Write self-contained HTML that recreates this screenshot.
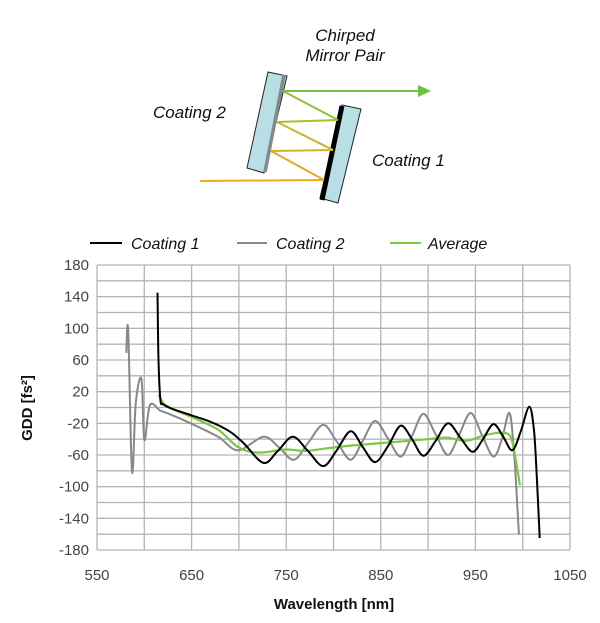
<!DOCTYPE html>
<html><head><meta charset="utf-8"><style>
html,body{margin:0;padding:0;background:#fff;}
svg{display:block;font-family:"Liberation Sans",sans-serif;}
</style></head><body>
<svg id="chart" width="600" height="623" viewBox="0 0 600 623">
<g>
  <text x="345" y="41" font-size="17" font-style="italic" text-anchor="middle" fill="#111">Chirped</text>
  <text x="345" y="61" font-size="17" font-style="italic" text-anchor="middle" fill="#111">Mirror Pair</text>
  <text x="153" y="118" font-size="17" font-style="italic" fill="#111">Coating 2</text>
  <text x="372" y="166" font-size="17" font-style="italic" fill="#111">Coating 1</text>
  <polygon points="268,72 287,76 264,173 247,168" fill="#b9dfe6" stroke="#222" stroke-width="1"/>
  <line x1="284" y1="75" x2="265" y2="172" stroke="#888" stroke-width="3.5"/>
  <polygon points="342,105 361,109 338,203 320,198" fill="#b9dfe6" stroke="#222" stroke-width="1"/>
  <line x1="342" y1="106" x2="322" y2="200" stroke="#000" stroke-width="5"/>
  <g fill="none" stroke-width="2">
    <line x1="200" y1="181" x2="324" y2="180" stroke="#f0a820"/>
    <line x1="324" y1="180" x2="271" y2="151" stroke="#e8a820"/>
    <line x1="271" y1="151" x2="333" y2="150" stroke="#d8b020"/>
    <line x1="333" y1="150" x2="277" y2="122" stroke="#c0b828"/>
    <line x1="277" y1="122" x2="338" y2="120" stroke="#a8c030"/>
    <line x1="338" y1="120" x2="283" y2="91" stroke="#90c038"/>
    <line x1="283" y1="91" x2="420" y2="91" stroke="#78c040"/>
  </g>
  <polygon points="418,85 431,91 418,97" fill="#70c040"/>
</g>
<g>
  <line x1="90" y1="243" x2="122" y2="243" stroke="#000" stroke-width="2"/>
  <text x="131" y="249" font-size="16" font-style="italic" fill="#111">Coating 1</text>
  <line x1="237" y1="243" x2="267" y2="243" stroke="#888" stroke-width="2"/>
  <text x="276" y="249" font-size="16" font-style="italic" fill="#111">Coating 2</text>
  <line x1="390" y1="243" x2="421" y2="243" stroke="#7ac943" stroke-width="2"/>
  <text x="428" y="249" font-size="16" font-style="italic" fill="#111">Average</text>
</g>
<g id="grid"></g>
<g id="axes"></g>
<g id="series"></g>
<text x="0" y="0" transform="translate(32,408) rotate(-90)" font-size="15" font-weight="bold" text-anchor="middle" fill="#111">GDD [fs²]</text>
<text x="334" y="609" font-size="15" font-weight="bold" text-anchor="middle" fill="#111">Wavelength [nm]</text>
</svg>
<script>
const xTicks = [550, 650, 750, 850, 950, 1050];
const yTicks = [180, 140, 100, 60, 20, -20, -60, -100, -140, -180];
const coating1WL = [614,615,617,620,630,650,670,690,705,726,741,757,773,789,803,818,831,844,858,871,883,895,908,921,934,947,958,969,979,989,998,1007,1012,1015,1018];
const coating1GDD = [145,60,10,4,-2,-10,-18,-30,-45,-70,-55,-37,-55,-74,-55,-30,-50,-69,-48,-23,-40,-61,-42,-20,-38,-56,-40,-21,-36,-54,-30,1,-30,-90,-165];
const coating2WL = [581,583,587,591,597,600,606,617,628,649,678,699,726,742,758,773,789,803,818,831,844,858,871,883,895,908,921,933,945,957,969,978,986,991,996];
const coating2GDD = [69,97,-81,6,36,-41,3,-4,-9,-20,-37,-54,-37,-50,-66,-45,-22,-42,-66,-42,-17,-40,-62,-36,-8,-34,-60,-34,-7,-35,-62,-40,-7,-60,-160];
const averageWL = [615,620,625,650,678,699,720,750,770,790,820,850,880,900,920,940,960,975,986,991,997];
const averageGDD = [16,6,1,-12,-28,-50,-57,-53,-55,-52,-48,-45,-42,-40,-38,-42,-35,-32,-35,-55,-98];

const X0=97, X1=570, Y0=265, Y1=550;
const xs = v => X0 + (v-550)/(1050-550)*(X1-X0);
const ys = v => Y0 + (180-v)/360*(Y1-Y0);
const NS='http://www.w3.org/2000/svg';
function mk(tag, attrs, parent){const e=document.createElementNS(NS,tag);for(const k in attrs)e.setAttribute(k,attrs[k]);parent.appendChild(e);return e;}
const grid=document.getElementById('grid'), axes=document.getElementById('axes'), series=document.getElementById('series');
for(let v=-180; v<=180; v+=20){
  const l=mk('line',{x1:X0,x2:X1,y1:ys(v),y2:ys(v),stroke:'#b4b4b4','stroke-width':1.3},grid);
  
  
}
for(let v=550; v<=1050; v+=50){
  const l=mk('line',{x1:xs(v),x2:xs(v),y1:Y0,y2:Y1,stroke:'#b4b4b4','stroke-width':1.3},grid);
  
  
}
yTicks.forEach(v=>{
  const t=mk('text',{x:89,y:ys(v)+5,'font-size':15,'text-anchor':'end',fill:'#444'},axes);
  t.textContent=v;
  
  
});
xTicks.forEach(v=>{
  const t=mk('text',{x:xs(v),y:580,'font-size':15,'text-anchor':'middle',fill:'#444'},axes);
  t.textContent=v;
  
  
});
function smooth(wl, g){
  const p=wl.map((w,i)=>[xs(w),ys(g[i])]);
  let d='M'+p[0][0].toFixed(1)+','+p[0][1].toFixed(1);
  for(let i=0;i<p.length-1;i++){
    const a=p[i-1]||p[i], b=p[i], c=p[i+1], e=p[i+2]||c;
    const c1=[b[0]+(c[0]-a[0])/6, b[1]+(c[1]-a[1])/6];
    const c2=[c[0]-(e[0]-b[0])/6, c[1]-(e[1]-b[1])/6];
    d+=' C'+c1.map(n=>n.toFixed(1))+' '+c2.map(n=>n.toFixed(1))+' '+c.map(n=>n.toFixed(1));
  }
  return d;
}
const p2=mk('path',{d:smooth(coating2WL,coating2GDD),fill:'none',stroke:'#888','stroke-width':2},series);


const p3=mk('path',{d:smooth(averageWL,averageGDD),fill:'none',stroke:'#7ac943','stroke-width':2.2},series);


const p1=mk('path',{d:smooth(coating1WL,coating1GDD),fill:'none',stroke:'#000','stroke-width':2},series);


</script>
</body></html>
